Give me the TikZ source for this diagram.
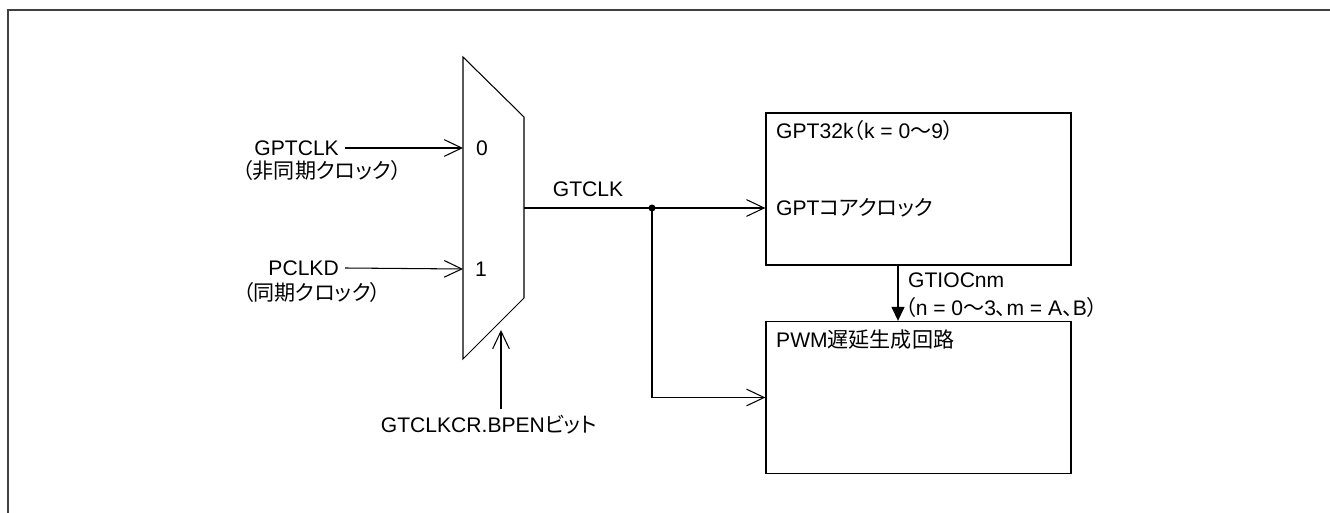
\documentclass[tikz,border=0pt]{standalone}
\usepackage{fontspec}
\setmainfont{Liberation Sans}
\newfontfamily\jpfont[RawFeature=+palt]{Noto Sans CJK JP}
\newcommand{\jtxt}[1]{{\jpfont #1}}
\usetikzlibrary{arrows.meta, positioning}
\usepackage{xcolor}

\begin{document}
\begin{tikzpicture}[x=0.02cm, y=-0.02cm, font=\fontsize{12}{14}\selectfont,
    sig/.style={draw, line width=0.6pt, -{Straight Barb[length=10pt, width=9.5pt]}},
    blk/.style={draw, rectangle, line width=0.8pt, minimum width=6.1cm, minimum height=3.04cm, inner sep=0pt}]
            \useasboundingbox (0,0) rectangle (1330,513);
            % outer frame
            \draw[line width=1.1pt, black!75] (8,530) |- (1345,10);
            % selector
            \draw[line width=0.6pt] (463,57) -- (524,117) -- (524,298) -- (463,359) -- cycle;
            \coordinate (in0) at (463,148);
            \coordinate (in1) at (463,269);
            \coordinate (out) at (524,208);
            \coordinate (sel) at (501,330);
            \coordinate (dot) at (652,208);
            \node (zero) at (482,148) {0};
            \node (one) at (481,269) {1};
            % inputs
            \node[anchor=east] (gptclk) at (345,148) {GPTCLK};
            \node (async) at (322,170) {\jtxt{（非同期クロック）}};
            \node[anchor=east] (pclkd) at (345,268) {PCLKD};
            \node (sync) at (312,292) {\jtxt{（同期クロック）}};
            \path [sig] (gptclk.east) -- (in0);
            \path [sig] (pclkd.east) -- (in1);
            \node (bpen) at (489,425) {GTCLKCR.BPEN\jtxt{ビット}};
            \path [sig] (bpen.north -| sel) -- (sel);
            % blocks
            \node[blk] (gpt) at (918.5,189) {};
            \node[anchor=west] (gptname) at (770,130) {GPT32k\jtxt{（}k = 0\jtxt{～}9\jtxt{）}};
            \node[anchor=west] (gptcore) at (770,208) {GPT\jtxt{コアクロック}};
            \node[blk] (pwm) at (918.5,397.5) {};
            \node[anchor=west] (pwmname) at (770,340) {PWM\jtxt{遅延生成回路}};
            % clock distribution
            \draw[line width=0.6pt] (out) -- node[above, yshift=3pt] (gtclk) {GTCLK} (dot);
            \fill (dot) circle (2pt);
            \path [sig] (dot) -- (dot -| gpt.west);
            \path [sig] (dot) |- (pwm.west);
            % GTIOC output
            \coordinate (io) at (898,265);
            \path [draw, line width=0.6pt, -{Triangle[length=8pt, width=7.5pt]}] (io) -- (io |- pwm.north);
            \node[anchor=west] (gtioc) at (902,280) {GTIOCnm};
            \node[anchor=west] (gtiocrng) at (899,307) {\jtxt{（}n = 0\jtxt{～}3\jtxt{、}m = A\jtxt{、}B\jtxt{）}};
\end{tikzpicture}
\end{document}
